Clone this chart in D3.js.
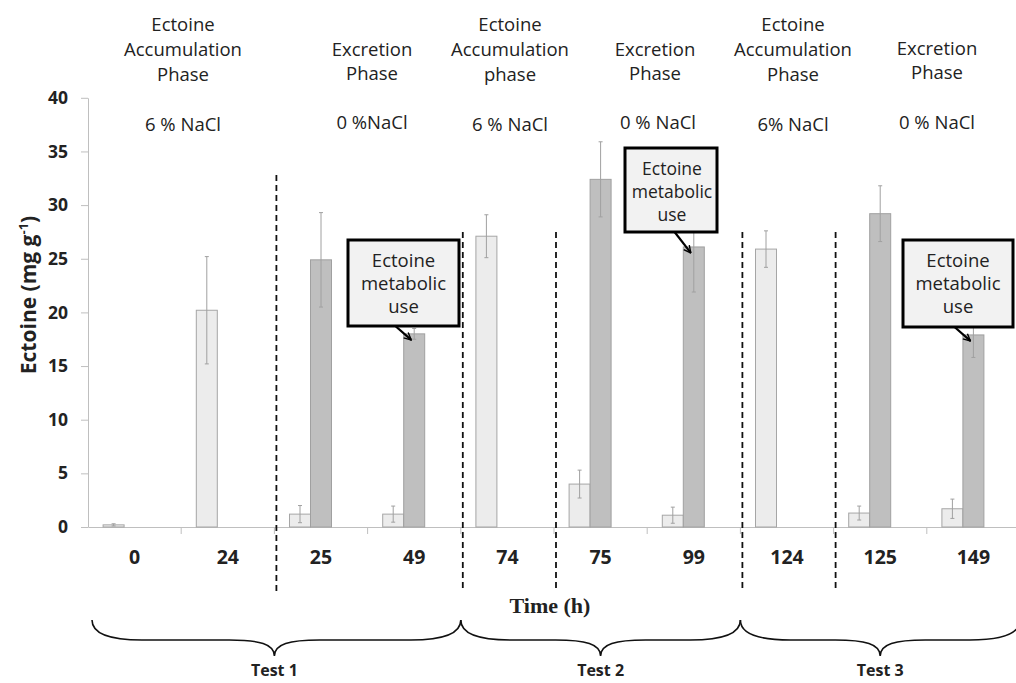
<!DOCTYPE html>
<html>
<head>
<meta charset="utf-8">
<script src="https://cdn.jsdelivr.net/npm/d3@7/dist/d3.min.js"></script>
<style>
  body { margin: 0; background: #fff; }
  svg { display: block; font-family: "Open Sans", sans-serif; }
</style>
</head>
<body>
<svg id="chart" width="1016" height="683"></svg>
<script>
// ---------------- DATA ----------------
const categories = ["0", "24", "25", "49", "74", "75", "99", "124", "125", "149"];
const accumValues = [0.2, 20.2, 1.2, 1.2, 27.1, 4.0, 1.1, 25.9, 1.3, 1.7];
const accumErrors = [0.1, 5.0, 0.8, 0.75, 2.0, 1.3, 0.75, 1.7, 0.65, 0.9];
const excretValues = [null, null, 24.9, 18.0, null, 32.4, 26.1, null, 29.2, 17.9];
const excretErrors = [null, null, 4.4, 0.5, null, 3.5, 4.2, null, 2.6, 2.1];
const yTicks = [0, 5, 10, 15, 20, 25, 30, 35, 40];
const dividerCats = ["25", "74", "75", "124", "125"];
const metabolicUseCats = ["49", "99", "149"];
const tests = [
  { label: "Test 1", from: "0", to: "49" },
  { label: "Test 2", from: "74", to: "99" },
  { label: "Test 3", from: "124", to: "149" }
];
const phaseLabels = [
  ["Ectoine", "Accumulation", "Phase"],
  ["Excretion", "Phase"],
  ["Ectoine", "Accumulation", "phase"],
  ["Excretion", "Phase"],
  ["Ectoine", "Accumulation", "Phase"],
  ["Excretion", "Phase"]
];
const saltLabels = ["6 % NaCl", "0 %NaCl", "6 % NaCl", "0 % NaCl", "6% NaCl", "0 % NaCl"];

// ---------------- LAYOUT ----------------
const svg = d3.select("#chart");
const left = 88, bandW = 93.2, y0px = 527, y40px = 97.8;
const x = d3.scaleBand().domain(categories).range([left, left + bandW * categories.length]).padding(0);
const y = d3.scaleLinear().domain([0, 40]).range([y0px, y40px]);
const groupW = 63;
const xs = d3.scaleBand().domain(["accum", "excret", "blank"]).range([0, groupW]).padding(0);
const off = (x.bandwidth() - groupW) / 2;

const axisGray = "#bfbfbf";
const textDark = "#222";
const sans = "'Open Sans', sans-serif";

// Y axis
const yAxis = svg.append("g").attr("transform", `translate(${left},0)`)
  .call(d3.axisLeft(y).tickValues(yTicks).tickSize(7).tickSizeOuter(0).tickPadding(13));
yAxis.select(".domain").attr("stroke", axisGray);
yAxis.selectAll(".tick line").attr("stroke", axisGray);
yAxis.selectAll(".tick text").style("font-family", sans).style("font-weight", "bold")
  .style("font-size", "17.5px").attr("fill", textDark);

// X axis
const xAxis = svg.append("g").attr("transform", `translate(0,${y0px})`)
  .call(d3.axisBottom(x).tickSize(0).tickSizeOuter(0).tickPadding(23));
xAxis.select(".domain").attr("stroke", axisGray);
xAxis.selectAll(".tick text").style("font-family", sans).style("font-weight", "bold")
  .style("font-size", "19.5px").attr("fill", textDark);
const boundaries = categories.map(c => x(c)).concat([x.range()[1]]);
svg.append("g").selectAll("line").data(boundaries.slice(1)).join("line")
  .attr("x1", d => d).attr("x2", d => d).attr("y1", y0px).attr("y2", y0px + 7)
  .attr("stroke", axisGray);

// Divider dashed lines
svg.append("g").selectAll("line").data(dividerCats).join("line")
  .attr("x1", d => x(d) + 2).attr("x2", d => x(d) + 2)
  .attr("y1", (d, i) => i === 0 ? 175 : 232).attr("y2", 592)
  .attr("stroke", "#111").attr("stroke-width", 1.8).attr("stroke-dasharray", "6,4");

// Bars
const rows = categories.map((c, i) => ({ c, a: accumValues[i], ae: accumErrors[i], e: excretValues[i], ee: excretErrors[i] }));
const barW = xs.bandwidth();
svg.append("g").selectAll("rect").data(rows).join("rect")
  .attr("x", d => x(d.c) + off + xs("accum")).attr("width", barW)
  .attr("y", d => y(d.a)).attr("height", d => y(0) - y(d.a))
  .attr("fill", "#ececec").attr("stroke", "#a6a6a6").attr("stroke-width", 1);
svg.append("g").selectAll("rect").data(rows.filter(d => d.e != null)).join("rect")
  .attr("x", d => x(d.c) + off + xs("excret")).attr("width", barW)
  .attr("y", d => y(d.e)).attr("height", d => y(0) - y(d.e))
  .attr("fill", "#bfbfbf").attr("stroke", "#a0a0a0").attr("stroke-width", 1);

// Error bars
function errBars(data, key, errKey, series) {
  const g = svg.append("g").attr("stroke", "#a0a0a0").attr("stroke-width", 1);
  data.forEach(d => {
    const cx = x(d.c) + off + xs(series) + barW / 2;
    const top = y(d[key] + d[errKey]), bot = y(Math.max(0, d[key] - d[errKey]));
    g.append("line").attr("x1", cx).attr("x2", cx).attr("y1", top).attr("y2", bot);
    g.append("line").attr("x1", cx - 2).attr("x2", cx + 2).attr("y1", top).attr("y2", top);
    g.append("line").attr("x1", cx - 2).attr("x2", cx + 2).attr("y1", bot).attr("y2", bot);
  });
}
errBars(rows, "a", "ae", "accum");
errBars(rows.filter(d => d.e != null), "e", "ee", "excret");

// Phase labels on top
const phaseX = [183, 372, 510, 655, 793, 937];
const phaseBase = [[31, 56, 81], [56, 80], [31, 56, 81], [56, 80], [31, 56, 81], [55, 79]];
const tg = svg.append("g").attr("fill", textDark).attr("text-anchor", "middle")
  .style("font-family", sans).style("font-size", "18.5px");
phaseLabels.forEach((lines, i) => {
  lines.forEach((ln, j) => {
    tg.append("text").attr("x", phaseX[i]).attr("y", phaseBase[i][j]).text(ln);
  });
});
const saltX = [183, 372, 510, 658, 793, 937];
const saltY = [131, 129, 131, 129, 131, 129];
saltLabels.forEach((s, i) => {
  tg.append("text").attr("x", saltX[i]).attr("y", saltY[i]).text(s);
});

// Callout boxes "Ectoine metabolic use"
const boxes = [
  { x: 348, y: 240, w: 111, h: 86 },
  { x: 625, y: 148, w: 92, h: 84 },
  { x: 903, y: 240, w: 110, h: 87 }
];
svg.append("defs").append("marker").attr("id", "arrow").attr("viewBox", "0 0 10 10")
  .attr("refX", 9).attr("refY", 5).attr("markerWidth", 4).attr("markerHeight", 4)
  .attr("orient", "auto").attr("markerUnits", "strokeWidth")
  .append("path").attr("d", "M1,1 L9,5 L1,9").attr("fill", "none").attr("stroke", "#000").attr("stroke-width", 1.6);
metabolicUseCats.forEach((c, i) => {
  const idx = categories.indexOf(c);
  const cx = x(c) + off + xs("excret") + barW / 2;
  const tipX = cx - 3, tipY = y(excretValues[idx]) + 6;
  const b = boxes[i];
  svg.append("line").attr("x1", tipX - 17).attr("y1", b.y + b.h - 1).attr("x2", tipX).attr("y2", tipY)
    .attr("stroke", "#000").attr("stroke-width", 2.2).attr("marker-end", "url(#arrow)");
  svg.append("rect").attr("x", b.x).attr("y", b.y).attr("width", b.w).attr("height", b.h)
    .attr("fill", "#f2f2f2").attr("stroke", "#000").attr("stroke-width", 3);
  const lines = ["Ectoine", "metabolic", "use"];
  lines.forEach((ln, j) => {
    svg.append("text").attr("x", b.x + b.w / 2 + (i === 1 ? 1 : 0)).attr("y", b.y + 27 + j * 23)
      .attr("text-anchor", "middle").style("font-family", sans).style("font-size", i === 1 ? "17.5px" : "18.5px")
      .attr("fill", textDark).text(ln);
  });
});

// Axis titles
svg.append("text").attr("x", 550).attr("y", 613).attr("text-anchor", "middle")
  .style("font-family", "'Liberation Serif', serif").style("font-weight", "bold").style("font-size", "22px")
  .attr("fill", textDark).text("Time (h)");
const yt = svg.append("text").attr("transform", "translate(36,295) rotate(-90)").attr("text-anchor", "middle")
  .style("font-family", sans).style("font-weight", "bold").style("font-size", "21px").attr("fill", textDark);
yt.append("tspan").text("Ectoine (mg g");
yt.append("tspan").attr("dy", -8).style("font-size", "13px").text("-1");
yt.append("tspan").attr("dy", 8).text(")");

// Braces
const braceTop = 620, braceMid = 640, braceTip = 656;
tests.forEach(t => {
  const x0 = x(t.from) + (t.from === categories[0] ? 4 : 0);
  const x1 = x(t.to) + x.bandwidth();
  const m = (x(t.from) + x1) / 2;
  const p = d3.path();
  p.moveTo(x0, braceTop);
  p.bezierCurveTo(x0, braceMid - 5, x0 + 20, braceMid, x0 + 50, braceMid);
  p.lineTo(m - 45, braceMid);
  p.bezierCurveTo(m - 15, braceMid, m, braceMid + 4, m, braceTip);
  p.bezierCurveTo(m, braceMid + 4, m + 15, braceMid, m + 45, braceMid);
  p.lineTo(x1 - 50, braceMid);
  p.bezierCurveTo(x1 - 20, braceMid, x1, braceMid - 5, x1, braceTop);
  svg.append("path").attr("d", p.toString()).attr("fill", "none").attr("stroke", "#111").attr("stroke-width", 1.6);
  svg.append("text").attr("x", m).attr("y", 676).attr("text-anchor", "middle")
    .style("font-family", sans).style("font-weight", "bold").style("font-size", "16px")
    .attr("fill", textDark).text(t.label);
});
</script>
</body>
</html>
